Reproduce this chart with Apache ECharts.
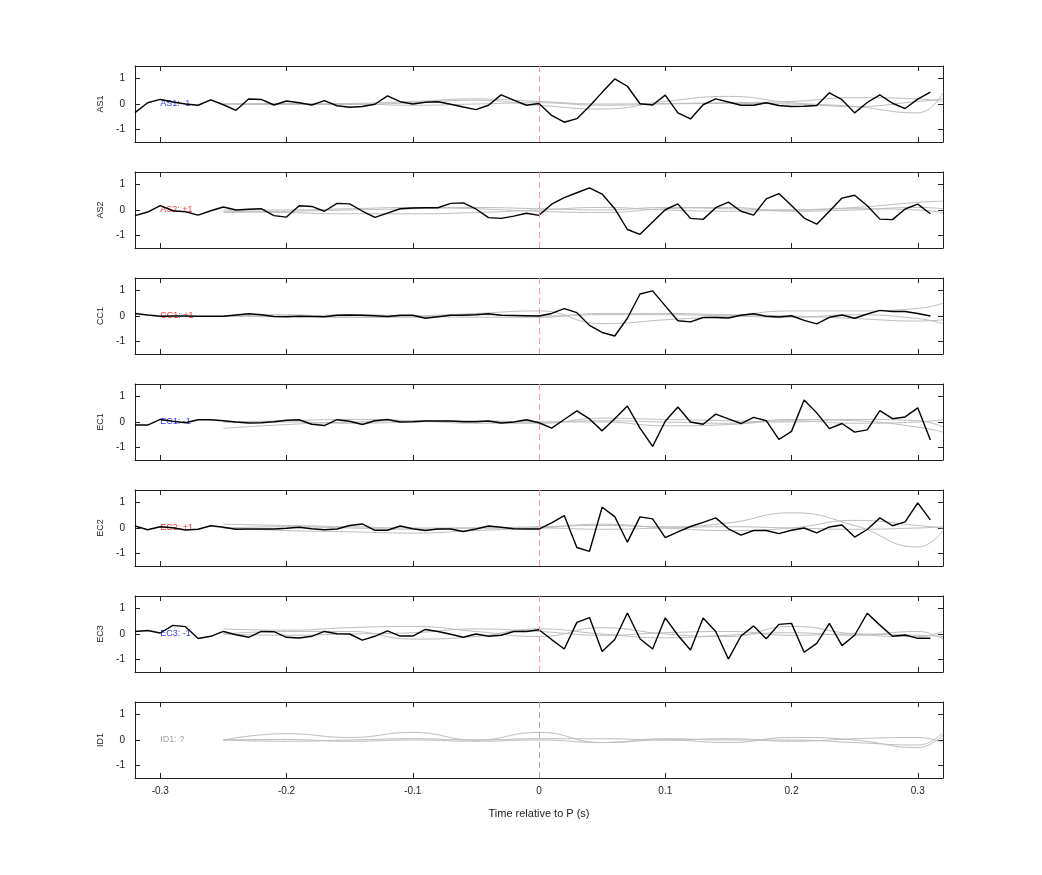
<!DOCTYPE html>
<html><head><meta charset="utf-8">
<script src="https://cdn.jsdelivr.net/npm/echarts@6/dist/echarts.min.js"></script>
<style>html,body{margin:0;background:#fff}#c{width:1042px;height:875px}</style>
</head><body><div id="c"></div>
<script>
const panelNames = ['AS1','AS2','CC1','EC1','EC2','EC3','ID1'];
const panelLabels = ['AS1: -1','AS2: +1','CC1: +1','EC1: -1','EC2: +1','EC3: -1','ID1: ?'];
const labelColors = ['#0000ee','#ee0000','#ee0000','#0000ee','#ee0000','#0000ee','#888888'];
const blackT = [];
for (let i = 0; i < 64; i++) blackT.push(+(-0.32 + 0.01 * i).toFixed(2));
const grayT = [-0.25,-0.2,-0.15,-0.1,-0.05,0,0.05,0.1,0.15,0.2,0.25,0.3,0.32];

const AS1 = [-0.34,0.05,0.18,0.08,0,-0.05,0.16,-0.03,-0.25,0.2,0.18,-0.04,0.12,0.05,-0.04,0.13,-0.07,-0.13,-0.1,-0.01,0.32,0.09,0,0.07,0.09,-0.01,-0.12,-0.22,-0.05,0.36,0.15,-0.05,0.02,
 -0.45,-0.72,-0.58,-0.09,0.46,0.99,0.7,0.01,-0.04,0.35,-0.35,-0.59,-0.03,0.2,0.08,-0.05,-0.05,0.05,-0.06,-0.1,-0.09,-0.06,0.44,0.17,-0.35,0.06,0.36,0.03,-0.18,0.19,0.47];
const AS2 = [-0.22,-0.08,0.17,-0.03,-0.07,-0.2,-0.03,0.12,0,0.03,0.05,-0.22,-0.28,0.17,0.14,-0.05,0.26,0.24,-0.04,-0.29,-0.12,0.05,0.08,0.09,0.09,0.26,0.28,0.04,-0.3,-0.33,-0.24,-0.13,-0.21,
 0.23,0.49,0.68,0.87,0.63,0.05,-0.77,-0.96,-0.47,0.01,0.24,-0.33,-0.37,0.09,0.31,-0.05,-0.2,0.44,0.65,0.18,-0.32,-0.56,-0.05,0.47,0.58,0.17,-0.36,-0.38,0.04,0.23,-0.15];
const CC1 = [0.1,0.04,-0.01,0,0,-0.01,-0.01,-0.01,0.04,0.09,0.05,-0.02,-0.03,-0.01,-0.02,-0.03,0.03,0.04,0.03,0.01,-0.02,0.03,0.03,-0.09,-0.03,0.03,0.03,0.05,0.09,0.03,0.02,0.01,0,
 0.1,0.29,0.13,-0.37,-0.65,-0.79,-0.09,0.87,0.99,0.4,-0.19,-0.23,-0.06,-0.06,-0.08,0.03,0.09,-0.01,-0.04,0.01,-0.17,-0.31,-0.05,0.04,-0.09,0.08,0.22,0.18,0.18,0.1,0];
const EC1 = [-0.12,-0.12,0.1,0.03,-0.03,0.09,0.09,0.05,0,-0.04,-0.03,0.01,0.07,0.09,-0.09,-0.14,0.09,0.03,-0.1,0.05,0.1,0,0.01,0.04,0.04,0.04,0.01,0.01,0.04,-0.04,0,0.09,-0.03,
 -0.24,0.1,0.44,0.12,-0.35,0.13,0.63,-0.24,-0.96,0.03,0.59,0,-0.09,0.31,0.12,-0.06,0.18,0.05,-0.69,-0.37,0.87,0.36,-0.26,-0.06,-0.4,-0.31,0.45,0.13,0.2,0.56,-0.71];
const EC2 = [0.08,-0.07,0.05,0.01,-0.08,-0.05,0.09,0.03,-0.05,-0.04,-0.04,-0.04,-0.01,0.03,-0.03,-0.07,-0.04,0.1,0.16,-0.09,-0.09,0.08,-0.03,-0.1,-0.04,-0.04,-0.14,-0.04,0.08,0.03,-0.03,-0.04,-0.04,
 0.2,0.49,-0.77,-0.92,0.82,0.45,-0.56,0.44,0.36,-0.38,-0.15,0.06,0.22,0.4,-0.03,-0.28,-0.1,-0.1,-0.22,-0.09,0,-0.19,0.04,0.12,-0.36,-0.06,0.4,0.09,0.24,0.99,0.32];
const EC3 = [0.1,0.14,0.04,0.34,0.29,-0.18,-0.09,0.1,-0.03,-0.13,0.1,0.09,-0.13,-0.16,-0.09,0.1,0.01,0,-0.24,-0.09,0.12,-0.08,-0.08,0.18,0.1,-0.01,-0.13,0,-0.09,-0.05,0.1,0.1,0.17,
 -0.22,-0.59,0.46,0.65,-0.69,-0.22,0.83,-0.19,-0.59,0.64,-0.05,-0.63,0.63,0.1,-0.99,-0.08,0.32,-0.19,0.38,0.42,-0.72,-0.37,0.42,-0.46,-0.05,0.82,0.35,-0.09,-0.04,-0.17,-0.17];
const blackSeries = [AS1, AS2, CC1, EC1, EC2, EC3, null];

const grayAS1 = [[0,0.02,-0.02,0.05,0.15,-0.05,-0.2,0.1,0.3,0.05,-0.1,-0.35,0.45],[0,0,0.02,0.1,0.2,0.1,0,0.02,0.05,0.1,0.25,0.2,0.1],[0,-0.02,0,-0.05,0,0.05,-0.05,0,0.02,0,-0.1,0.1,0.2]];
const grayAS2 = [[-0.1,-0.05,0,0.05,0.1,0.05,0,0.1,0.05,0,0.1,0.3,0.35],[-0.05,-0.1,-0.15,-0.15,-0.1,0,0.1,0,-0.05,0,0.05,0,-0.1],[0,0,0.05,0.1,0.05,-0.05,-0.1,0.05,0.1,-0.05,0,0.1,0.05]];
const grayCC1 = [[0,0,-0.05,0,0.1,0.2,-0.3,-0.15,0,0.2,0.2,0.3,0.5],[0,0.05,-0.05,-0.05,0.05,0,0.05,0.05,0,-0.05,0.05,-0.1,-0.3],[0,-0.02,0.05,0,-0.05,-0.05,0.1,0.1,0.05,0,-0.1,-0.2,-0.15]];
const grayEC1 = [[-0.25,-0.1,0,0.05,0.02,0,0.05,0,-0.05,0.1,0.05,-0.2,-0.4],[0,0.05,0.1,0.05,-0.05,-0.05,0.15,0.1,0.05,0,0.1,0.05,-0.2],[0,0,-0.05,0,0.05,0,0,-0.15,-0.1,0.05,-0.05,0,0.1]];
const grayEC2 = [[0.15,0.1,0.05,0,0,0.05,0.1,0.05,0.2,0.6,0.1,-0.75,-0.1],[0,-0.1,-0.15,-0.2,-0.1,0,0.15,0,-0.1,0,0.3,0.1,0],[0,0.05,0,-0.05,0,0,-0.05,0,0.05,0,-0.05,0,0.05]];
const grayEC3 = [[0.2,0.15,0.25,0.3,0.1,-0.1,0.25,0,-0.1,0.3,0,-0.1,0.1],[0,0.1,0.1,-0.2,-0.1,0.2,0,-0.15,-0.05,0.05,-0.05,0.1,-0.2],[0,-0.05,0,0.05,0.2,0.1,-0.05,0.05,0.1,-0.05,0,-0.05,-0.1]];
const grayID1 = [[0,0.25,0.1,0.3,0,0.3,-0.1,0,-0.1,0.1,0,-0.3,0.2],[0,-0.05,0,0.05,0,0.05,0.05,0,0.05,-0.05,0.05,0.1,-0.1],[0,0.02,-0.05,0,-0.05,0,-0.1,0.05,0,0,-0.1,-0.2,0.3]];
const graySeries = [grayAS1, grayAS2, grayCC1, grayEC1, grayEC2, grayEC3, grayID1];
const xTicks = [-0.3,-0.2,-0.1,0,0.1,0.2,0.3];
const yTicks = [-1,0,1];

const FONT = 'Liberation Sans, Arial, sans-serif';
const grids = [], xAxes = [], yAxes = [], series = [];
const tops = [66,172,278,384,490,596,702];
const line = {show:true, onZero:false, lineStyle:{color:'#222', width:1}};
const tick = v => ({show:true, inside:true, length:5, lineStyle:{color:'#222'}, customValues:v});
panelNames.forEach((nm, p) => {
  grids.push({left:135, right:99, top:tops[p], height:76});
  const last = p === 6;
  xAxes.push({type:'value', gridIndex:p, position:'bottom', min:-0.32, max:0.32,
    axisLine:line, splitLine:{show:false}, axisTick:tick(xTicks),
    axisLabel:{show:last, color:'#222', fontFamily:FONT, fontSize:10, margin:8, customValues:xTicks,
      formatter:v => (Math.round(v*10)/10).toString()},
    name: last ? 'Time relative to P (s)' : '', nameLocation:'middle', nameGap:30,
    nameTextStyle:{color:'#222', fontFamily:FONT, fontSize:11}});
  xAxes.push({type:'value', gridIndex:p, position:'top', min:-0.32, max:0.32,
    axisLine:line, splitLine:{show:false}, axisLabel:{show:false}, axisTick:tick(xTicks)});
  yAxes.push({type:'value', gridIndex:p, position:'left', min:-1.5, max:1.5,
    axisLine:line, splitLine:{show:false}, axisTick:tick(yTicks),
    axisLabel:{color:'#222', fontFamily:FONT, fontSize:10, margin:10, customValues:yTicks},
    name:nm, nameLocation:'middle', nameGap:28, nameRotate:90,
    nameTextStyle:{color:'#222', fontFamily:FONT, fontSize:9}});
  yAxes.push({type:'value', gridIndex:p, position:'right', min:-1.5, max:1.5,
    axisLine:line, splitLine:{show:false}, axisLabel:{show:false}, axisTick:tick(yTicks)});
  graySeries[p].forEach(g => {
    series.push({type:'line', xAxisIndex:2*p, yAxisIndex:2*p, smooth:0.5, showSymbol:false, silent:true,
      lineStyle:{color:'#bdbdbd', width:1}, data:grayT.map((t,i)=>[t,g[i]])});
  });
  series.push({type:'scatter', xAxisIndex:2*p, yAxisIndex:2*p, symbolSize:0, silent:true,
    data:[[-0.3,0]], label:{show:true, position:'right', distance:0, formatter:panelLabels[p],
      color:labelColors[p], fontFamily:FONT, fontSize:9},
    markLine:{silent:true, symbol:'none', label:{show:false},
      lineStyle:{color: last ? '#aaaaaa' : '#f09a9a', type:[6,4], width:1}, data:[{xAxis:0}]}});
  if (blackSeries[p]) {
    series.push({type:'line', xAxisIndex:2*p, yAxisIndex:2*p, showSymbol:false, silent:true,
      lineStyle:{color:'#000', width:1.4}, data:blackT.map((t,i)=>[t,blackSeries[p][i]])});
  }
});
const chart = echarts.init(document.getElementById('c'));
chart.setOption({backgroundColor:'#fff', animation:false, grid:grids, xAxis:xAxes, yAxis:yAxes, series});
</script></body></html>
